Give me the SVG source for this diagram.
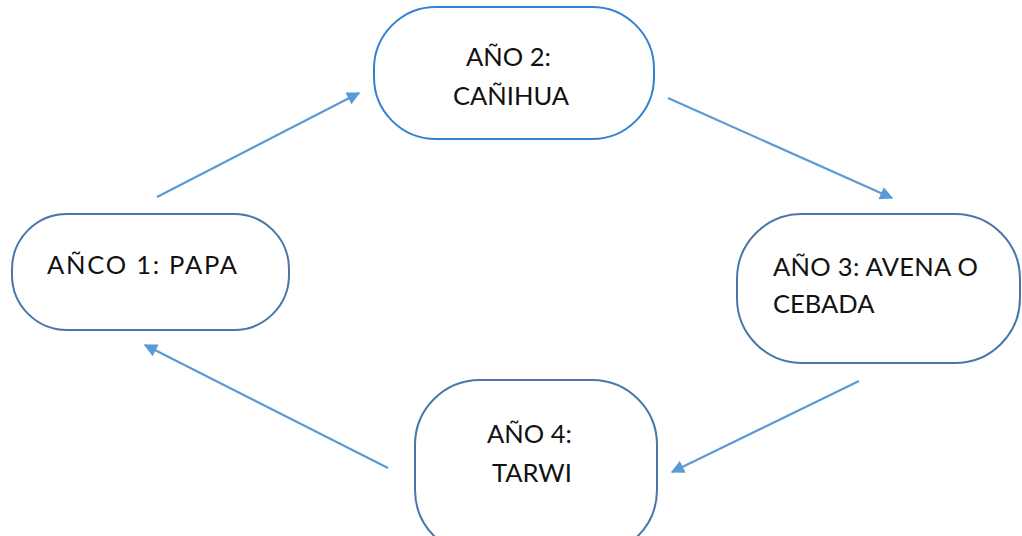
<svg xmlns="http://www.w3.org/2000/svg" width="1022" height="536" viewBox="0 0 1022 536">
<defs>
<style>
.node{fill:#ffffff;stroke:#4a76a8;stroke-width:2}
.node.hl{stroke:#3282cf}
.lbl{font-family:Lato,"Liberation Sans",sans-serif;font-size:25.5px;fill:#111111}
.conn{stroke:#5b9bd5;stroke-width:2.2;fill:none;marker-end:url(#ah)}
</style>
<marker id="ah" viewBox="0 0 10 10" refX="9" refY="5" markerWidth="7" markerHeight="6" orient="auto" markerUnits="strokeWidth">
<path d="M0,0 L10,5 L0,10 z" fill="#5b9bd5"/>
</marker>
</defs>
<rect width="1022" height="536" fill="#ffffff"/>
<g id="connectors">
<line class="conn" x1="157" y1="197" x2="359" y2="93"/>
<line class="conn" x1="668" y1="98" x2="892" y2="198"/>
<line class="conn" x1="859" y1="381" x2="672" y2="472"/>
<line class="conn" x1="388" y1="468" x2="145" y2="345"/>
</g>
<g id="node-ano2">
<rect class="node hl" x="374" y="7" width="280" height="132" rx="62" ry="62"/>
<text class="lbl" x="466" y="66">AÑO 2:</text>
<text class="lbl" x="453" y="105">CAÑIHUA</text>
</g>
<g id="node-ano1">
<rect class="node" x="12" y="214" width="277" height="116" rx="55" ry="55"/>
<text class="lbl" x="47" y="274" textLength="190">AÑCO 1: PAPA</text>
</g>
<g id="node-ano3">
<rect class="node" x="737" y="214" width="283" height="149" rx="65" ry="65"/>
<text class="lbl" x="773" y="276" textLength="205">AÑO 3: AVENA O</text>
<text class="lbl" x="773" y="313">CEBADA</text>
</g>
<g id="node-ano4">
<rect class="node" x="415" y="380" width="242" height="175" rx="65" ry="65"/>
<text class="lbl" x="487" y="443">AÑO 4:</text>
<text class="lbl" x="492" y="482">TARWI</text>
</g>
</svg>
